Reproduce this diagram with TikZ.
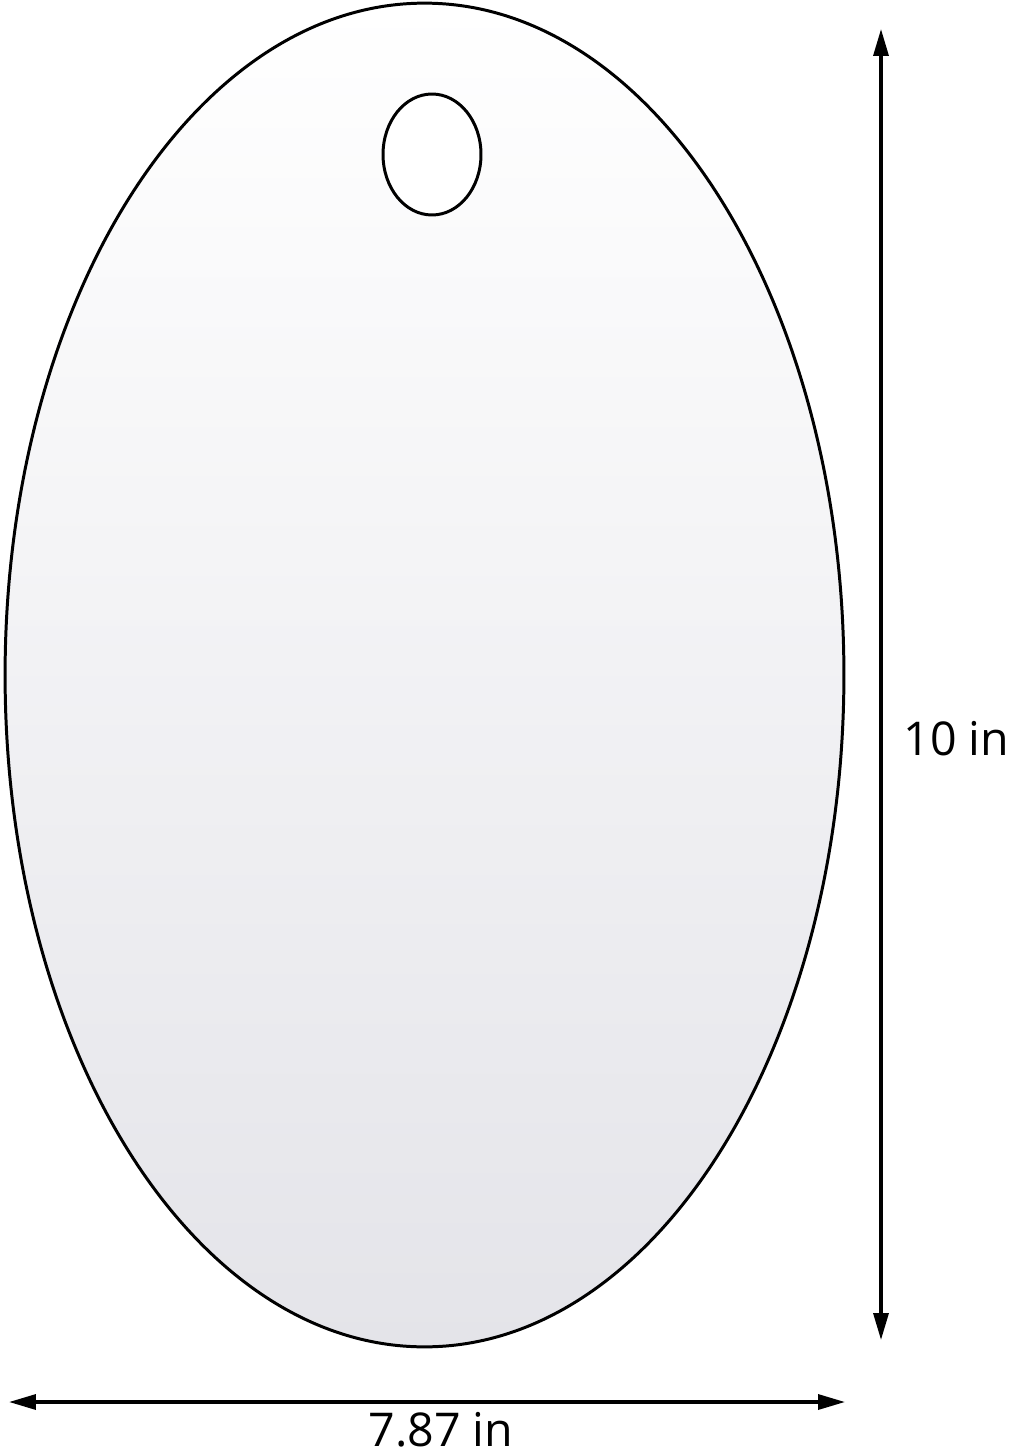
\documentclass[tikz,border=0pt]{standalone}
\usepackage{fontspec}
\setmainfont{Open Sans}
\usetikzlibrary{arrows.meta,shapes.geometric}
\definecolor{mirrorgray}{RGB}{228,228,233}
\begin{document}
\begin{tikzpicture}[x=0.02cm, y=-0.02cm,
        mirror/.style={ellipse, draw=black, line width=1.7pt, top color=white, bottom color=mirrorgray, inner sep=0pt},
        hole/.style={ellipse, draw=black, line width=1.7pt, fill=white, inner sep=0pt},
        dimline/.style={line width=1.9pt, {Triangle[length=0.54cm,width=0.3cm]}-{Triangle[length=0.54cm,width=0.3cm]}},
        dimlabel/.style={font=\fontsize{26.5}{32}\selectfont, inner sep=0pt, anchor=base},
      ]
      \useasboundingbox (0,0) rectangle (1013,1453);
      %Nodes
      \node[mirror, minimum width=16.78cm, minimum height=26.88cm] (tag) at (424.5,675) {};
      \node[hole, minimum width=1.96cm, minimum height=2.42cm] (hole) at (432,154.5) {};

      \coordinate (htop) at (881,29);
      \coordinate (hbot) at (881,1340);
      \coordinate (wleft) at (9,1402);
      \coordinate (wright) at (845,1402);

      \node[dimlabel] (height) at (956.5,755) {10 in};
      \node[dimlabel] (width)  at (441,1446) {7.87 in};

      %Lines
      \draw[dimline] (htop) -- (hbot);
      \draw[dimline] (wleft) -- (wright);
    \end{tikzpicture}
\end{document}
